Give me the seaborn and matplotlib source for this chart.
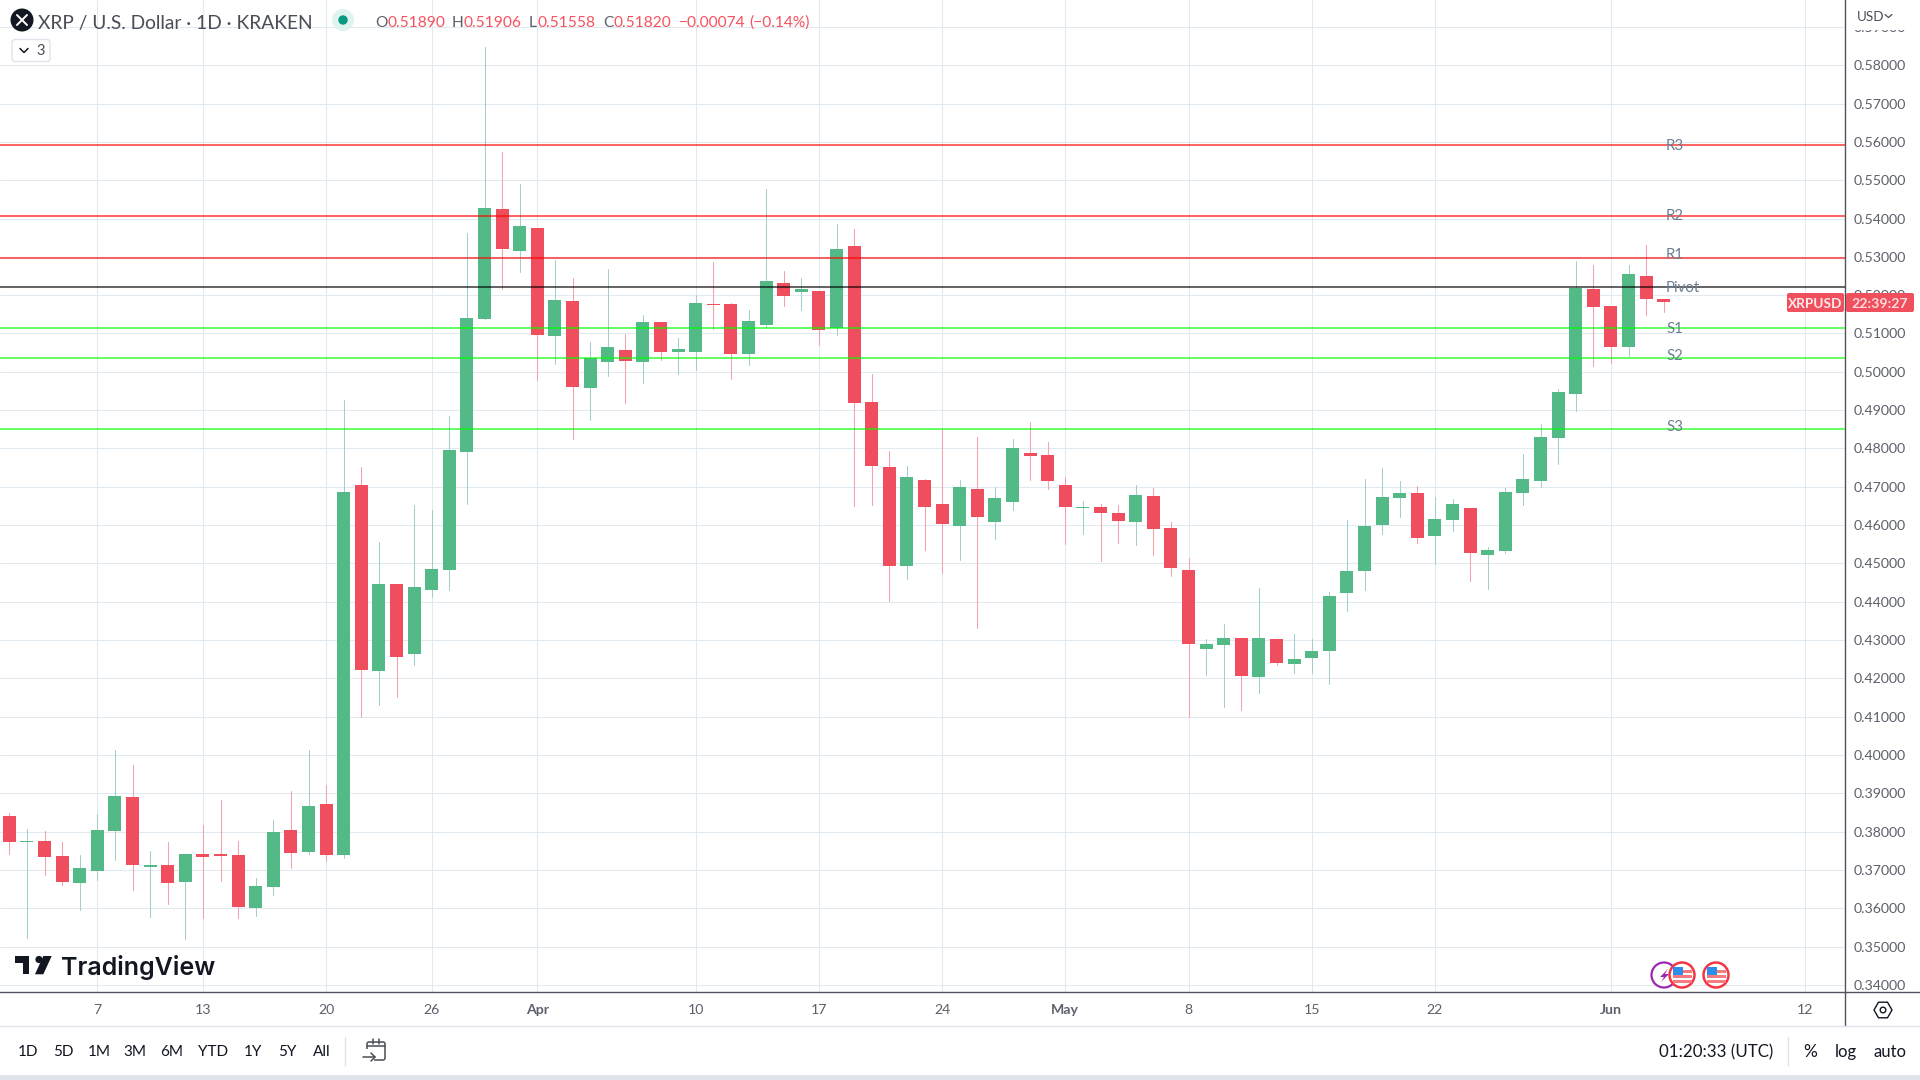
import numpy as np
import pandas as pd
import seaborn as sns
import matplotlib
matplotlib.use("Agg")
import matplotlib.pyplot as plt
from matplotlib.patches import Rectangle, Circle, Polygon, FancyBboxPatch, RegularPolygon
from matplotlib.lines import Line2D

open_ = [.3840,.3772,.3775,.3736,.3665,.3697,.3801,.3890,.3707,.3712,.3668,.3741,.3741,.3738,.3600,.3655,.3803,.3746,.3871,.3740,
         .4705,.4219,.4446,.4263,.4430,.4483,.4791,.5138,.5425,.5316,.5376,.5094,.5185,.4958,.5026,.5057,.5026,.5130,.5052,.5052,
         .5177,.5177,.5047,.5123,.5232,.5207,.5212,.5113,.5327,.4922,.4751,.4492,.4717,.4654,.4597,.4694,.4607,.4660,.4788,.4783,
         .4704,.4644,.4647,.4631,.4607,.4675,.4592,.4483,.4277,.4288,.4306,.4204,.4303,.4238,.4254,.4272,.4423,.4481,.4601,.4671,
         .4684,.4572,.4614,.4645,.4523,.4533,.4684,.4716,.4826,.4943,.5215,.5171,.5064,.5249,.5189]
high_ = [.3848,.3806,.3801,.3772,.3738,.3845,.4012,.3973,.3749,.3772,.3741,.3817,.3882,.3775,.3678,.3830,.3905,.4012,.3921,.4927,
         .4752,.4556,.4446,.4653,.4639,.4885,.5363,.5848,.5574,.5491,.5376,.5292,.5245,.5078,.5269,.5099,.5149,.5130,.5089,.5201,
         .5287,.5180,.5162,.5478,.5264,.5246,.5212,.5385,.5372,.4995,.4793,.4754,.4720,.4851,.4717,.4830,.4699,.4825,.4869,.4817,
         .4725,.4662,.4654,.4652,.4704,.4696,.4607,.4515,.4303,.4343,.4306,.4437,.4303,.4317,.4303,.4426,.4614,.4721,.4750,.4716,
         .4703,.4674,.4669,.4645,.4543,.4697,.4786,.4863,.4954,.5288,.5278,.5171,.5278,.5332,.5191]
low_ = [.3741,.3522,.3686,.3660,.3595,.3673,.3725,.3647,.3577,.3610,.3519,.3574,.3670,.3574,.3579,.3634,.3704,.3741,.3723,.3732,
        .4098,.4130,.4151,.4234,.4412,.4430,.4655,.5138,.5217,.5261,.4979,.5021,.4825,.4875,.4989,.4919,.4971,.5031,.4995,.5005,
        .5112,.4982,.5018,.5117,.5172,.5162,.5071,.5097,.4649,.4652,.4403,.4458,.4534,.4474,.4510,.4332,.4563,.4639,.4717,.4694,
        .4550,.4578,.4505,.4552,.4547,.4521,.4468,.4100,.4210,.4126,.4118,.4163,.4236,.4215,.4215,.4186,.4377,.4431,.4577,.4622,
        .4554,.4499,.4585,.4455,.4434,.4528,.4653,.4700,.4760,.4899,.5014,.5022,.5040,.5147,.5156]
close_ = [.3772,.3775,.3733,.3668,.3704,.3803,.3892,.3712,.3712,.3665,.3741,.3733,.3736,.3603,.3657,.3798,.3743,.3866,.3738,.4686,
          .4221,.4446,.4255,.4438,.4485,.4796,.5141,.5428,.5321,.5381,.5096,.5188,.4961,.5036,.5065,.5029,.5130,.5052,.5060,.5180,
          .5175,.5047,.5133,.5237,.5198,.5215,.5110,.5320,.4919,.4754,.4492,.4725,.4647,.4602,.4699,.4620,.4670,.4801,.4780,.4715,
          .4647,.4647,.4631,.4610,.4678,.4589,.4489,.4290,.4290,.4306,.4207,.4306,.4241,.4251,.4272,.4416,.4481,.4598,.4674,.4684,
          .4567,.4617,.4656,.4528,.4536,.4687,.4721,.4829,.4946,.5218,.5168,.5064,.5254,.5189,.5182]

level_names = ["R3", "R2", "R1", "Pivot", "S1", "S2", "S3"]
level_values = [.5593, .5407, .5297, .5222, .5115, .5036, .4851]
level_colors = ["#FF0000", "#FF0000", "#FF0000", "#000000", "#00FF00", "#00FF00", "#00FF00"]

x_tick_pos = [5, 11, 18, 24, 30, 39, 46, 53, 60, 67, 74, 81, 91, 102]
x_tick_labels = ["7", "13", "20", "26", "Apr", "10", "17", "24", "May", "8", "15", "22", "Jun", "12"]
y_tick_vals = [round(.34 + .01 * i, 2) for i in range(26)]
range_buttons = ["1D", "5D", "1M", "3M", "6M", "YTD", "1Y", "5Y", "All"]

sns.set_theme(style="white")
FONT = ["Lato", "DejaVu Sans"]
plt.rcParams["font.family"] = FONT

UP, DOWN = "#53B987", "#EE4E5D"
UPW, DOWNW = "#A4CDCD", "#F6A0AC"
TXT, DARK, AX = "#5D606B", "#131722", "#50535E"
GRID = "#E1EAF0"

W, H = 1920, 1080
fig = plt.figure(figsize=(W / 100, H / 100), dpi=100, facecolor="white")
ax = fig.add_axes([0, 1 - 992 / H, 1845 / W, 992 / H], facecolor="white")

df = pd.DataFrame({"o": open_, "h": high_, "l": low_, "c": close_})
df["idx"] = df.index
df["dir"] = np.where(df.c >= df.o, "up", "down")

wicks = df.melt(id_vars=["idx", "dir"], value_vars=["l", "h"], value_name="price").sort_values(["idx", "variable"])
sns.lineplot(data=wicks, x="idx", y="price", hue="dir", units="idx", estimator=None, sort=False,
             palette={"up": UPW, "down": DOWNW}, linewidth=0.75, legend=False, ax=ax, zorder=2)

bar_w = 13 / 17.6
ax.bar(df.idx, (df.c - df.o).abs(), bottom=df[["o", "c"]].min(axis=1), width=bar_w,
       color=df.dir.map({"up": UP, "down": DOWN}), linewidth=0, zorder=3)

levels = pd.DataFrame({"name": np.repeat(level_names, 2), "price": np.repeat(level_values, 2),
                       "x": [-1, 106] * len(level_names)})
sns.lineplot(data=levels, x="x", y="price", hue="name", palette=dict(zip(level_names, level_colors)),
             estimator=None, sort=False, linewidth=1.45, alpha=0.6, legend=False, ax=ax, zorder=4)

ax.set_xlim(-0.53, 104.3)
ax.set_ylim(.35 - 45.4 / 3832, .35 + 946.6 / 3832)
ax.set_xlabel(""); ax.set_ylabel("")
ax.set_xticks(x_tick_pos)
ax.set_xticklabels(x_tick_labels)
ax.set_yticks(y_tick_vals)
ax.set_yticklabels([f"{v:.5f}" for v in y_tick_vals])
ax.yaxis.tick_right()
ax.tick_params(axis="y", length=0, pad=6.5, labelsize=10.2, labelcolor=TXT)
ax.tick_params(axis="x", length=0, pad=8.3, labelsize=10.2, labelcolor=TXT)
for lab in ax.get_xticklabels():
    if lab.get_text() in ("Apr", "May", "Jun"):
        lab.set_fontweight("bold")
ax.set_axisbelow(True)
ax.grid(True, color=GRID, linewidth=0.75)
for s in ("top", "left"):
    ax.spines[s].set_visible(False)
for s in ("right", "bottom"):
    ax.spines[s].set_color(AX)
    ax.spines[s].set_linewidth(1.0)

# page furniture, in pixel coordinates
ov = fig.add_axes([0, 0, 1, 1], zorder=5)
ov.set_xlim(0, W); ov.set_ylim(H, 0); ov.axis("off"); ov.patch.set_alpha(0)

ov.add_patch(Rectangle((1847, 0), 73, 30, fc="white", ec="none"))
ov.add_line(Line2D([1845, 1920], [992, 992], color=AX, lw=1.0))
ov.add_line(Line2D([1845, 1845], [992, 1026], color=AX, lw=1.0))
ov.add_line(Line2D([0, 1920], [1026, 1026], color="#E0E3EB", lw=1.0))
ov.add_patch(Rectangle((0, 1075), 1920, 5, fc="#E0E3EB", ec="none"))
ov.add_line(Line2D([345, 345], [1037, 1065], color="#E0E3EB", lw=1.0))
ov.add_line(Line2D([1788, 1788], [1037, 1065], color="#E0E3EB", lw=1.0))


def t(x, y, s, size=12, color=DARK, ha="left", weight="normal", **kw):
    return ov.text(x, y, s, fontsize=size, color=color, ha=ha, va="center", fontweight=weight, **kw)


# header
ov.add_patch(Circle((22, 20), 11.5, fc="#131722", ec="none"))
ov.add_line(Line2D([17, 27], [15, 25], color="white", lw=1.4))
ov.add_line(Line2D([17, 27], [25, 15], color="white", lw=1.4))
t(38, 23, "XRP / U.S. Dollar · 1D · KRAKEN", 13.8, "#4A4D57")
ov.add_patch(Circle((343, 20), 11, fc="#E0F3EF", ec="none"))
ov.add_patch(Circle((343, 20), 4.7, fc="#089981", ec="none"))
RED = "#F7525F"
for x, s, c in [(375, "O", TXT), (387, "0.51890", RED), (452, "H", TXT), (464, "0.51906", RED),
                (529, "L", TXT), (538, "0.51558", RED), (603, "C", TXT), (614, "0.51820", RED),
                (679, "−0.00074", RED), (749, "(−0.14%)", RED)]:
    t(x, 23, s, 11.2, c)
ov.add_patch(FancyBboxPatch((12, 39.5), 38, 22, boxstyle="round,pad=0,rounding_size=3", fc="white", ec="#E0E3EB", lw=1))
ov.add_line(Line2D([20, 24, 28], [48.5, 52.5, 48.5], color=DARK, lw=1.1))
t(36, 51, "3", 10.5, "#4A4D57")

# right axis header
t(1857, 17, "USD", 9.6, "#4A4D57")
ov.add_line(Line2D([1885, 1888.5, 1892], [14.5, 17.5, 14.5], color="#4A4D57", lw=0.9))

# pivot labels
for s, y in zip(level_names, [146, 216, 255, 288, 329, 356, 427]):
    t(1666, y, s, 10.8, "#6C7F92")

# price tag
ov.add_patch(FancyBboxPatch((1787, 293), 57, 19, boxstyle="round,pad=0,rounding_size=2", fc="#F04F5E", ec="none"))
ov.add_patch(FancyBboxPatch((1846, 293), 68, 19, boxstyle="round,pad=0,rounding_size=2", fc="#F04F5E", ec="none"))
t(1815.5, 303.5, "XRPUSD", 9.8, "#FFE9EB", "center", "bold")
t(1880, 303.5, "22:39:27", 10.2, "#FFD9DD", "center", "bold")

# TradingView logo
ov.add_patch(Polygon([(15, 956), (29, 956), (29, 974), (23, 974), (23, 963), (15, 963)], fc=DARK, ec="none"))
ov.add_patch(Circle((39, 959.5), 3.6, fc=DARK, ec="none"))
ov.add_patch(Polygon([(43.3, 956), (51.7, 956), (43.3, 974.3), (35, 974.3)], fc=DARK, ec="none"))
ov.text(61, 967, "TradingView", fontsize=18, color=DARK, fontweight="semibold", family=["Inter", "DejaVu Sans"],
        ha="left", va="center")

# event icons
ov.add_patch(Circle((1664, 975), 12.5, fc="white", ec="#9C27B0", lw=1.6))
ov.add_patch(Polygon([(1668, 969), (1660, 977), (1664, 977), (1661, 982), (1669, 974), (1665, 974)], fc="#9C27B0", ec="none"))
for cx in (1682, 1716):
    ov.add_patch(Circle((cx, 975), 12.5, fc="white", ec="#F23645", lw=1.8))
    for dy in (-6, -1, 4):
        ov.add_patch(Rectangle((cx - 9.5, 975 + dy + 1), 19, 2.6, fc="#F77C80", ec="none"))
    ov.add_patch(Rectangle((cx - 9, 967), 10, 8, fc="#2E8DEB", ec="none"))

# gear
ov.add_patch(RegularPolygon((1883, 1010), 6, radius=9, orientation=np.pi / 2, fc="white", ec=DARK, lw=1))
ov.add_patch(Circle((1883, 1010), 2.8, fc="white", ec=DARK, lw=1))

# bottom toolbar
for s, x in zip(range_buttons, [28, 63, 99, 135, 172, 213, 253, 287, 322]):
    t(x, 1052, s, 11, DARK, "center")
ov.add_patch(FancyBboxPatch((367, 1042), 18, 18, boxstyle="round,pad=0,rounding_size=2", fc="none", ec="#4A4D57", lw=1.1))
ov.add_patch(Rectangle((362, 1048.5), 12, 13, fc="white", ec="none"))
ov.add_line(Line2D([367, 385], [1046, 1046], color="#4A4D57", lw=1.1))
ov.add_line(Line2D([373, 373], [1039, 1044], color="#4A4D57", lw=1.1))
ov.add_line(Line2D([379, 379], [1039, 1044], color="#4A4D57", lw=1.1))
ov.add_line(Line2D([363, 375], [1057, 1057], color="#4A4D57", lw=1.1))
ov.add_line(Line2D([371, 375, 371], [1053, 1057, 1061], color="#4A4D57", lw=1.1))
t(1716, 1052, "01:20:33 (UTC)", 12.2, DARK, "center")
t(1810, 1052, "%", 12.5, DARK, "center")
t(1846, 1052, "log", 12, DARK, "center")
t(1890, 1052, "auto", 12, DARK, "center")

fig.savefig("out.png", dpi=100, facecolor="white")
